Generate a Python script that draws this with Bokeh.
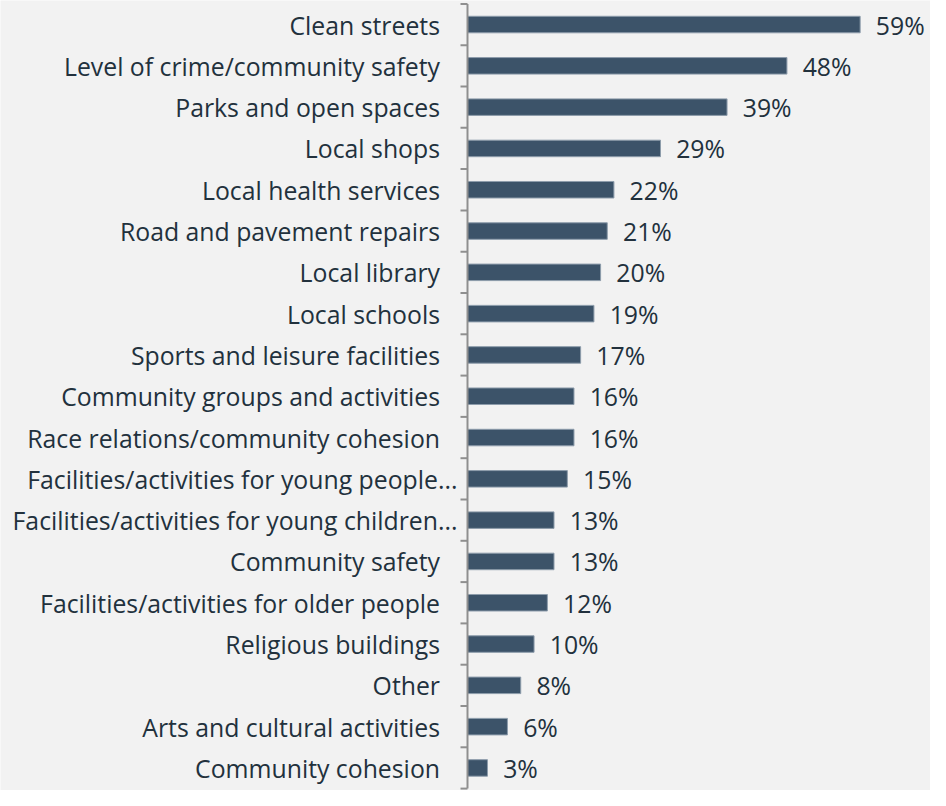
from bokeh.plotting import figure
from bokeh.models import Range1d, ColumnDataSource
from bokeh.core.properties import value
from bokeh.embed import file_html
from bokeh.resources import INLINE

categories = [
    "Clean streets",
    "Level of crime/community safety",
    "Parks and open spaces",
    "Local shops",
    "Local health services",
    "Road and pavement repairs",
    "Local library",
    "Local schools",
    "Sports and leisure facilities",
    "Community groups and activities",
    "Race relations/community cohesion",
    "Facilities/activities for young people...",
    "Facilities/activities for young children...",
    "Community safety",
    "Facilities/activities for older people",
    "Religious buildings",
    "Other",
    "Arts and cultural activities",
    "Community cohesion",
]
values = [59, 48, 39, 29, 22, 21, 20, 19, 17, 16, 16, 15, 13, 13, 12, 10, 8, 6, 3]
value_labels = [f"{v}%" for v in values]

BG = "#f2f2f2"
BAR = "#3c5369"
BAR_EDGE = "#8d9cab"
TEXT = "#22313d"
AXIS = "#8f8f8f"
FONT = value("Open Sans")
FS = "24.8px"

W, H = 930, 790
AXIS_PX = 467          # horizontal pixel position of the value-axis zero line
PX_PER_UNIT = 6.655    # pixels per percentage point
TICK_PX = 7

n = len(categories)
idx = list(range(n))
src = ColumnDataSource(dict(
    y=idx,
    v=values,
    cat=categories,
    vlab=value_labels,
    zero=[0] * n,
    off=[-10 if c.endswith("...") else -27.5 for c in categories],
))

x_start = -AXIS_PX / PX_PER_UNIT
x_end = (W - AXIS_PX) / PX_PER_UNIT
p = figure(width=W, height=H, output_backend="svg", toolbar_location=None,
           x_range=Range1d(x_start, x_end), y_range=Range1d(18.546, -0.582),
           min_border_left=0, min_border_right=0, min_border_top=0, min_border_bottom=0)
p.background_fill_color = BG
p.border_fill_color = BG
p.outline_line_color = None
p.xgrid.visible = False
p.ygrid.visible = False
p.xaxis.visible = False
p.yaxis.visible = False

p.hbar(y="y", left=0, right="v", height=0.40, source=src,
       fill_color=BAR, line_color=BAR_EDGE, line_width=1)

# category axis line and boundary ticks
boundaries = [i - 0.5 for i in range(n + 1)]
p.segment(x0=[0], x1=[0], y0=[boundaries[0]], y1=[boundaries[-1]],
          line_color=AXIS, line_width=2)
tick_len = TICK_PX / PX_PER_UNIT
p.segment(x0=[0] * len(boundaries), x1=[-tick_len] * len(boundaries),
          y0=boundaries, y1=boundaries, line_color=AXIS, line_width=2)

p.text(x="zero", y="y", text="cat", x_offset="off", source=src,
       text_align="right", text_baseline="middle",
       text_font=FONT, text_font_size=FS, text_color=TEXT)
p.text(x="v", y="y", text="vlab", x_offset=15.7, source=src,
       text_align="left", text_baseline="middle",
       text_font=FONT, text_font_size=FS, text_color=TEXT)

open("out.html", "w").write(file_html(p, INLINE))
